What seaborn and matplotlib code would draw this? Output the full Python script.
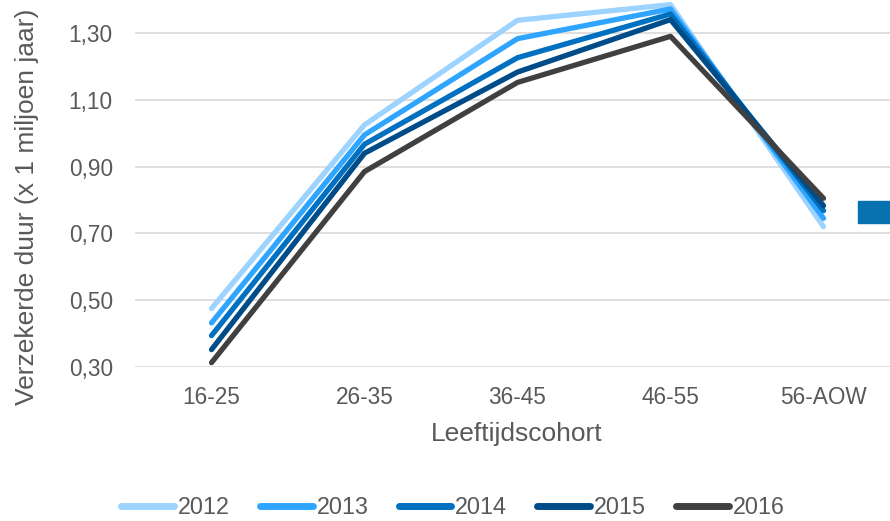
import matplotlib
matplotlib.use("Agg")
import matplotlib.pyplot as plt
import seaborn as sns
import pandas as pd
from matplotlib.patches import Rectangle
from matplotlib.ticker import FuncFormatter

cohorts = ["16-25", "26-35", "36-45", "46-55", "56-AOW"]
years = ["2012", "2013", "2014", "2015", "2016"]
v2012 = [0.475, 1.025, 1.338, 1.385, 0.72]
v2013 = [0.432, 0.995, 1.283, 1.372, 0.745]
v2014 = [0.394, 0.967, 1.226, 1.357, 0.768]
v2015 = [0.352, 0.940, 1.183, 1.340, 0.783]
v2016 = [0.313, 0.885, 1.152, 1.290, 0.805]
series = [v2012, v2013, v2014, v2015, v2016]
colors = ["#9DD3FF", "#2FA5FF", "#0070C0", "#004C88", "#404040"]
yticks = [0.30, 0.50, 0.70, 0.90, 1.10, 1.30]

rows = []
for y, vals in zip(years, series):
    for c, v in zip(cohorts, vals):
        rows.append({"Leeftijdscohort": c, "Jaar": y, "Waarde": v})
df = pd.DataFrame(rows)

sns.set_style("white")
plt.rcParams["font.family"] = ["Liberation Sans", "DejaVu Sans"]
txt = "#595959"
fs_tick = 16.3
fs_title = 19
fs_leg = 16.8

fig = plt.figure(figsize=(8.9, 5.21), dpi=100)
W, H = 890, 521
ax = fig.add_axes([135 / W, 1 - 367 / H, 765 / W, (1.2 * 334) / H])

sns.lineplot(data=df, x="Leeftijdscohort", y="Waarde", hue="Jaar",
             hue_order=years, palette=colors, linewidth=3.8, sort=False,
             ax=ax, legend=True, solid_capstyle="round", solid_joinstyle="round")

ax.set_xlim(-0.5, 4.5)
ax.set_ylim(0.3, 1.5)
ax.set_yticks(yticks)
ax.yaxis.set_major_formatter(FuncFormatter(lambda v, p: f"{v:.2f}".replace(".", ",")))
ax.grid(axis="y", color="#D9D9D9", linewidth=1.2)
ax.grid(axis="x", visible=False)
ax.set_axisbelow(True)
for s in ax.spines.values():
    s.set_visible(False)
ax.tick_params(axis="both", length=0, labelsize=fs_tick, labelcolor=txt)
ax.tick_params(axis="y", pad=16)
ax.tick_params(axis="x", pad=14)
ax.set_xlabel("")
ax.set_ylabel("")
for ln in ax.lines:
    ln.set_clip_on(False)

fig.text(517 / W, 1 - 434 / H, "Leeftijdscohort", ha="center", va="center",
         fontsize=fs_title, color=txt)
fig.text(27 / W, 1 - 207 / H, "Verzekerde duur (x 1 miljoen jaar)", ha="center",
         va="center", rotation=90, fontsize=fs_title, color=txt)

handles, labels = ax.get_legend_handles_labels()
ax.get_legend().remove()
for h in handles:
    h.set_linewidth(5)
    h.set_solid_capstyle("round")
fig.legend(handles, labels, loc="center", bbox_to_anchor=(453 / W, 1 - 508 / H),
           ncol=5, frameon=False, fontsize=fs_leg, handlelength=2.25,
           handletextpad=0.17, columnspacing=1.3, labelcolor=txt)

fig.patches.append(Rectangle((858 / W, 1 - 223 / H), 40 / W, 22 / H,
                             transform=fig.transFigure, color="#0872B0"))

fig.savefig("out.png", dpi=100)
